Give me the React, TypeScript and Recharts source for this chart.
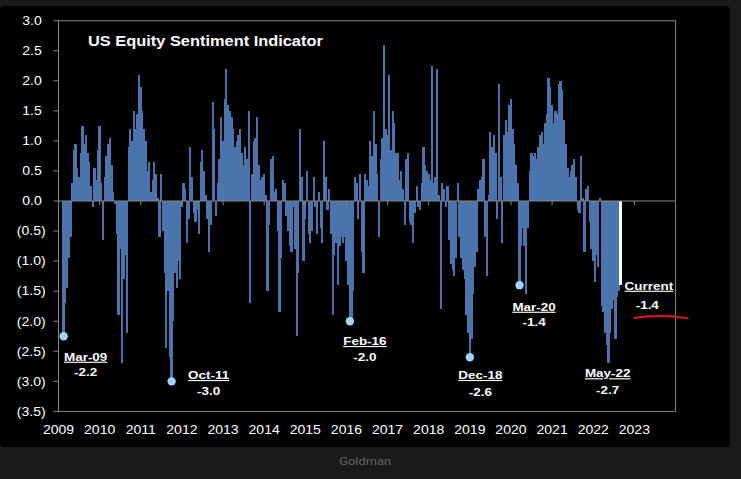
import React from 'react';
import {
  ComposedChart,
  Bar,
  XAxis,
  YAxis,
  ReferenceLine,
  ReferenceArea,
  ReferenceDot,
} from 'recharts';

// ---------------- data ----------------
// semi-monthly observations starting mid-Feb 2009
const START_DATE = 2009.125;
const STEP = 1 / 24;

const sentiment: number[] = [
  -2.25, -1.7, -1.45, -0.95, -0.6, 0.3, 0.85, 0.95, 0.55, 0.4,
  0.8, 1.25, 0.95, 1.1, 0.8, 0.65, 0.25, -0.1, 0.55, 0.35,
  0.85, 1.25, 0.3, -0.65, 0.4, 0.75, 0.95, 1.05, 0.6, 0.15,
  -0.05, -0.55, -1.9, -0.8, -2.7, -1.3, -0.9, -2.2, 0.9, 1.2,
  1.0, 1.5, 1.2, 1.45, 2.1, 1.9, 1.5, 1.2, 1.0, 0.5,
  0.65, 0.15, 0.35, 0.65, 0.45, 0.05, -0.6, 0.45, -0.5, -1.2,
  -2.45, -1.5, -2.6, -3.0, -2.0, -1.2, -1.45, -1.0, -1.3, -0.1,
  0.3, 0.2, -0.7, -0.3, 0.9, 0.4, -0.2, -0.35, -0.15, -0.55,
  0.65, 0.85, 0.5, 0.1, -0.3, -0.85, -0.4, 1.65, 1.2, -0.25,
  0.3, 0.7, 1.4, 1.0, 1.7, 2.2, 1.6, 1.5, 1.4, 1.2,
  0.9, 1.0, 1.1, 1.2, 0.8, 0.6, 0.9, 0.7, 1.5, -1.7,
  0.45, 1.0, 1.05, 1.4, 0.6, 0.35, 0.4, 0.45, 0.1, -1.5,
  -0.4, 0.7, 0.75, 0.15, 0.2, -0.5, -1.85, -0.95, 0.35, 0.3,
  -0.25, -0.5, -0.75, -0.85, -0.1, -0.8, -2.25, -1.2, 1.2, 0.4,
  -1.0, -0.3, 0.5, -0.55, -0.7, -0.5, 0.4, -0.1, -0.55, 0.15,
  -0.45, -0.7, 1.0, 0.4, -0.15, 0.2, -0.55, -1.9, -0.9, -0.7,
  -1.4, -0.75, -0.6, -0.7, -0.6, -1.0, -1.4, -2.0, -1.95, -1.5,
  0.4, 0.3, -0.3, 0.45, -0.85, -1.2, 0.45, 0.35, 0.25, 1.0,
  0.75, 1.5, 0.95, 0.45, -0.6, 0.7, 1.05, 2.6, 1.2, 1.1,
  2.1, 0.85, 1.5, 1.3, 0.8, 0.8, 0.35, 0.5, 0.2, -0.4,
  0.7, 0.8, -0.35, -0.4, -0.7, -0.2, 0.25, -0.1, -0.15, 0.3,
  0.9, 0.6, 0.5, 0.45, 0.35, 2.25, 0.3, 0.4, 2.2, 0.1,
  -1.8, 0.3, 0.2, -0.1, 0.25, -0.65, -1.05, -1.15, -1.25, -0.95,
  0.3, -0.6, -0.95, -1.15, -1.3, -1.9, -2.2, -2.6, -2.3, -1.55,
  -1.1, -0.85, 0.2, 0.35, 0.4, 0.7, -0.6, -1.25, 0.1, 1.15,
  0.9, 1.1, 0.8, -0.3, 1.95, 0.4, -0.7, 1.1, 1.35, 1.15,
  1.6, 1.7, 1.2, 0.95, 0.6, 0.3, -1.4, -0.75, -0.45, -0.75,
  -1.55, -0.45, 0.5, 0.8, 0.75, 0.8, 0.7, 0.9, 1.1, 1.15,
  0.95, 1.3, 1.45, 2.05, 1.9, 1.6, 1.3, 1.5, 1.45, 1.95,
  2.0, 1.85, 1.35, 0.95, 0.55, 0.4, 0.5, 0.6, 0.7, 0.4,
  -0.15, -0.2, 0.75, 0.05, -0.85, 0.2, 0.25, -0.35, -0.8, -1.0,
  -1.35, -0.9, -1.1, 0.05, -1.75, -1.85, -2.2, -2.4, -2.7, -2.2,
  -1.8, -1.65, -2.3, -1.6, -1.5,
];

const currentValue = -1.4;

const yearTicks = [
  2009, 2010, 2011, 2012, 2013, 2014, 2015, 2016, 2017, 2018, 2019, 2020, 2021, 2022, 2023,
];
const yTicks = [3, 2.5, 2, 1.5, 1, 0.5, 0, -0.5, -1, -1.5, -2, -2.5, -3, -3.5];

// annotations: index into the series, label and printed value
const annotationIndex = [0, 63, 167, 237, 266, 318, 325];
const annotationNames = ['Mar-09', 'Oct-11', 'Feb-16', 'Dec-18', 'Mar-20', 'May-22', 'Current'];
const annotationTexts = ['-2.2', '-3.0', '-2.0', '-2.6', '-1.4', '-2.7', '-1.4'];

// ---------------- styles ----------------
const FONT = '"Liberation Sans", Arial, Helvetica, sans-serif';
const SX = 1.17;
const BAR_COLOR = '#4a74ab';
const BAR_W = 2.2;
const CURRENT_W = 3.5;
const DOT_COLOR = '#a3d2f4';
const GRID_COLOR = '#858585';

const annLayout = [
  { dot: true, dx1: 22, dy1: 24.5, dx2: 22, dy2: 40 },
  { dot: true, dx1: 37, dy1: -2.3, dx2: 37, dy2: 13.7 },
  { dot: true, dx1: 15, dy1: 23.8, dx2: 15, dy2: 39.5 },
  { dot: true, dx1: 10.5, dy1: 21.7, dx2: 10.5, dy2: 38.4 },
  { dot: true, dx1: 14.5, dy1: 25.6, dx2: 14.5, dy2: 40.6 },
  { dot: false, dx1: -1, dy1: 14, dx2: -1, dy2: 30.7 },
  { dot: false, dx1: 28.2, dy1: 4.6, dx2: 26.6, dy2: 24, scribble: true },
];

const data = [
  ...sentiment.map((v, i) => ({ t: START_DATE + i * STEP, v, current: false })),
  { t: START_DATE + sentiment.length * STEP, v: currentValue, current: true },
];

const SText = (p: any) => (
  <text
    transform={`translate(${p.x},${p.y}) scale(${SX},1)`}
    textAnchor={p.anchor || 'middle'}
    fontSize={p.size}
    fontWeight={p.bold ? 'bold' : 'normal'}
    fill={p.fill || '#ffffff'}
    fontFamily={FONT}
    textDecoration={p.underline ? 'underline' : undefined}
  >
    {p.children}
  </text>
);

const renderBar = (props: any) => {
  const { x, y, width, height, payload } = props;
  if (x == null || y == null || !isFinite(height)) return <g />;
  const top = Math.min(y, y + height);
  const h = Math.abs(height);
  const cur = payload && payload.current;
  const w = cur ? CURRENT_W : BAR_W;
  const cx = x + (width || 0) / 2;
  return (
    <rect
      x={cx - w / 2}
      y={top}
      width={w}
      height={h}
      fill={cur ? '#ffffff' : BAR_COLOR}
      shapeRendering="crispEdges"
    />
  );
};

const YTick = (props: any) => {
  const { x, y, payload } = props;
  const v = payload.value as number;
  const txt = v < 0 ? `(${Math.abs(v).toFixed(1)})` : v.toFixed(1);
  const endX = v < 0 ? x - 5.8 : x - 9.8;
  return (
    <SText x={endX} y={y + 4.3} anchor="end" size={12}>
      {txt}
    </SText>
  );
};

const XTick = (props: any) => {
  const { x, y, payload } = props;
  return (
    <SText x={x} y={y + 15} size={12}>
      {payload.value}
    </SText>
  );
};

const makeLabel = (k: number) => (props: any) => {
  const vb = props.viewBox || {};
  const cx = (vb.x || 0) + (vb.width || 0) / 2;
  const cy = (vb.y || 0) + (vb.height || 0) / 2;
  const L = annLayout[k];
  return (
    <g>
      <SText x={cx + L.dx1} y={cy + L.dy1} size={11.5} bold underline>
        {annotationNames[k]}
      </SText>
      <SText x={cx + L.dx2} y={cy + L.dy2} size={11.5} bold>
        {annotationTexts[k]}
      </SText>
      {L.scribble ? (
        <path
          d={`M ${cx + 12.7} ${cy + 32.8} Q ${cx + 40} ${cy + 28.5} ${cx + 67.7} ${cy + 33.2}`}
          stroke="#e3161d"
          strokeWidth={2}
          fill="none"
        />
      ) : null}
    </g>
  );
};

export default function App() {
  return (
    <div
      style={{
        position: 'absolute',
        left: 0,
        top: 0,
        width: 741,
        height: 479,
        background: '#1a1a1a',
        overflow: 'hidden',
      }}
    >
      <div
        style={{
          position: 'absolute',
          left: 0,
          top: 6,
          width: 730,
          height: 441,
          background: '#000000',
          borderRadius: 4,
        }}
      />
      <div style={{ position: 'absolute', left: 0, top: 0 }}>
        <ComposedChart
          width={741}
          height={479}
          data={data}
          margin={{ top: 20.7, right: 65.5, bottom: 37.6, left: 0.5 }}
        >
          <XAxis
            dataKey="t"
            type="number"
            domain={[2009, 2024]}
            ticks={yearTicks}
            interval={0}
            axisLine={false}
            tickLine={false}
            height={30}
            tick={<XTick />}
          />
          <YAxis
            type="number"
            domain={[-3.5, 3]}
            ticks={yTicks}
            interval={0}
            width={58}
            tickSize={5}
            tickMargin={2}
            axisLine={{ stroke: GRID_COLOR }}
            tickLine={{ stroke: GRID_COLOR }}
            tick={<YTick />}
          />
          <ReferenceArea
            x1={2009}
            x2={2024}
            y1={-3.5}
            y2={3}
            fill="none"
            fillOpacity={0}
            stroke={GRID_COLOR}
            strokeWidth={1}
            ifOverflow="visible"
          />
          <Bar dataKey="v" barSize={2} isAnimationActive={false} shape={renderBar} />
          <ReferenceLine y={0} stroke={GRID_COLOR} strokeWidth={1.2} />
          {yearTicks.slice(1).map((yr) => (
            <ReferenceLine
              key={yr}
              segment={[
                { x: yr, y: 0 },
                { x: yr, y: -0.07 },
              ]}
              stroke={GRID_COLOR}
              strokeWidth={1}
            />
          ))}
          {annotationIndex.map((idx, k) => (
            <ReferenceDot
              key={annotationNames[k]}
              x={data[idx].t}
              y={data[idx].v}
              r={annLayout[k].dot ? 4.2 : 0}
              fill={annLayout[k].dot ? DOT_COLOR : 'none'}
              stroke="none"
              ifOverflow="visible"
              label={{ content: makeLabel(k) }}
            />
          ))}
        </ComposedChart>
      </div>
      <div
        style={{
          position: 'absolute',
          left: 88,
          top: 33,
          color: '#ffffff',
          fontFamily: FONT,
          fontWeight: 'bold',
          fontSize: 14,
          lineHeight: '16px',
          whiteSpace: 'nowrap',
          transform: `scale(${SX},1)`,
          transformOrigin: 'left top',
        }}
      >
        US Equity Sentiment Indicator
      </div>
      <div
        style={{
          position: 'absolute',
          left: 0,
          top: 455,
          width: 730,
          textAlign: 'center',
          color: '#666666',
          fontFamily: 'Roboto, "Liberation Sans", Arial, sans-serif',
          fontSize: 11,
          lineHeight: '14px',
        }}
      >
        <span style={{ display: 'inline-block', transform: `scale(${SX},1)` }}>Goldman</span>
      </div>
    </div>
  );
}
